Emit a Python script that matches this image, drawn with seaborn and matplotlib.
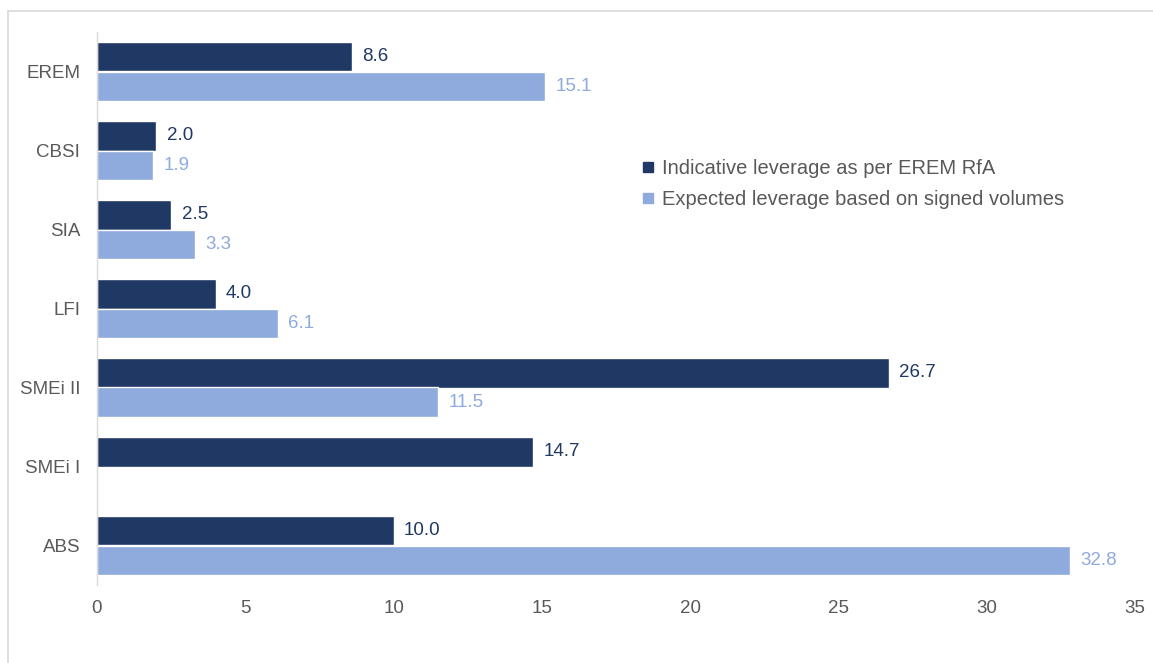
import matplotlib
matplotlib.use("Agg")
import matplotlib.pyplot as plt
import seaborn as sns
import pandas as pd
import numpy as np
from matplotlib.lines import Line2D

categories = ["EREM", "CBSI", "SIA", "LFI", "SMEi II", "SMEi I", "ABS"]
indicative = [8.6, 2.0, 2.5, 4.0, 26.7, 14.7, 10.0]
expected = [15.1, 1.9, 3.3, 6.1, 11.5, np.nan, 32.8]
series_names = ["Indicative leverage as per EREM RfA",
                "Expected leverage based on signed volumes"]
xticks = [0, 5, 10, 15, 20, 25, 30, 35]

dark = "#203864"
light = "#8FAADC"
grey = "#595959"

sns.set_theme(style="white")
plt.rcParams['font.family'] = ['Liberation Sans', 'DejaVu Sans']

df = pd.DataFrame({
    "category": categories * 2,
    "value": indicative + expected,
    "series": [series_names[0]] * len(categories) + [series_names[1]] * len(categories),
})

fig = plt.figure(figsize=(11.53, 6.63), dpi=100)
ax = fig.add_axes([97/1153, 1 - 585/663, (1135 - 97)/1153, (585 - 32)/663])

sns.barplot(data=df, y="category", x="value", hue="series", orient="h",
            palette=[dark, light], width=0.74, ax=ax, legend=False,
            edgecolor="white", linewidth=1, saturation=1)

for cont, col in zip(ax.containers, [dark, light]):
    labels = ["" if (v is None or np.isnan(v)) else f"{v:.1f}" for v in cont.datavalues]
    ax.bar_label(cont, labels=labels, padding=7.5, color=col, fontsize=13.5)

ax.set_xlim(0, 35)
ax.set_xticks(xticks)
ax.set_xticklabels([str(t) for t in xticks])
ax.set_xlabel("")
ax.set_ylabel("")
ax.tick_params(axis="both", length=0, labelsize=13.5, colors=grey)
ax.tick_params(axis="x", pad=11)
ax.tick_params(axis="y", pad=12)
for s in ["top", "right", "bottom"]:
    ax.spines[s].set_visible(False)
ax.spines["left"].set_color("#D9D9D9")
ax.spines["left"].set_linewidth(1)

handles = [Line2D([0], [0], marker="s", linestyle="none", markersize=7,
                  markerfacecolor=c, markeredgecolor=c) for c in [dark, light]]
leg = fig.legend(handles, series_names, loc="upper left",
                 bbox_to_anchor=(624/1153, 1 - 141/663), frameon=False,
                 fontsize=14.5, handlelength=0.6, handletextpad=0.4,
                 labelspacing=0.6, labelcolor=grey)

# outer frame
fig.add_artist(Line2D([8/1153, 8/1153], [0, 1 - 11/663], color="#D9D9D9", lw=1.2,
                      transform=fig.transFigure))
fig.add_artist(Line2D([8/1153, 1], [1 - 11/663, 1 - 11/663], color="#D9D9D9", lw=1.2,
                      transform=fig.transFigure))

fig.savefig("out.png", dpi=100)
